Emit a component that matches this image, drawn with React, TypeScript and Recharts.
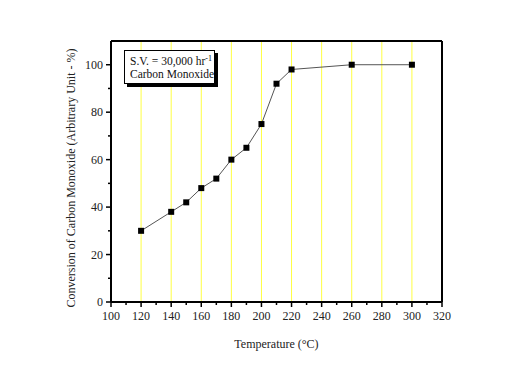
import React from 'react';
import { LineChart, Line, XAxis, YAxis, ReferenceLine } from 'recharts';

const temps = [120, 140, 150, 160, 170, 180, 190, 200, 210, 220, 260, 300];
const conversion = [30, 38, 42, 48, 52, 60, 65, 75, 92, 98, 100, 100];

const xTicks = [100, 110, 120, 130, 140, 150, 160, 170, 180, 190, 200, 210, 220, 230, 240, 250, 260, 270, 280, 290, 300, 310, 320];
const yTicks = [0, 10, 20, 30, 40, 50, 60, 70, 80, 90, 100, 110];
const gridX = [120, 140, 160, 180, 200, 220, 240, 260, 280, 300];

const data = temps.map((t, i) => ({ t, v: conversion[i] }));

const FONT = '"Liberation Serif", "Times New Roman", serif';

const XTick = (props: any) => {
    const { x, y, payload } = props;
    const major = payload.value % 20 === 0;
    return (
        <g>
            <line x1={x} x2={x} y1={y} y2={y + (major ? 5 : 3)} stroke="#000" strokeWidth={1.5} />
            {major && (
                <text x={x} y={y + 18} textAnchor="middle" fontSize={12} fontFamily={FONT} fill="#222">
                    {payload.value}
                </text>
            )}
        </g>
    );
};

const YTick = (props: any) => {
    const { x, y, payload } = props;
    const major = payload.value % 20 === 0;
    if (payload.value > 100) return <g />;
    return (
        <g>
            <line x1={x - (major ? 5 : 3)} x2={x} y1={y} y2={y} stroke="#000" strokeWidth={1.5} />
            {major && (
                <text x={x - 8} y={y + 4} textAnchor="end" fontSize={12} fontFamily={FONT} fill="#222">
                    {payload.value}
                </text>
            )}
        </g>
    );
};

const Square = (props: any) => {
    const { cx, cy } = props;
    return <rect x={cx - 3} y={cy - 3} width={6} height={6} fill="#000" />;
};

export default function App() {
    return (
        <div style={{ position: 'absolute', left: 0, top: 0, width: 515, height: 378, background: '#fff', fontFamily: FONT }}>
            <LineChart width={515} height={378} data={data} margin={{ top: 41, right: 73, left: 0, bottom: 0 }}>
                {gridX.map((g) => (
                    <ReferenceLine key={g} x={g} stroke="#ffff40" strokeWidth={1} />
                ))}
                <XAxis
                    dataKey="t" type="number" domain={[100, 320]} ticks={xTicks} interval={0}
                    height={76} tickSize={0} tickMargin={0} tick={<XTick />}
                    axisLine={{ stroke: '#000', strokeWidth: 2 }} tickLine={false}
                    label={{ value: 'Temperature (°C)', position: 'insideBottom', offset: 30, fontSize: 12, fontFamily: FONT, fill: '#222' }}
                />
                <YAxis
                    type="number" domain={[0, 110]} ticks={yTicks} interval={0}
                    width={111} tickSize={0} tickMargin={0} tick={<YTick />}
                    axisLine={{ stroke: '#000', strokeWidth: 2 }} tickLine={false}
                />
                <ReferenceLine y={110} stroke="#000" strokeWidth={2} />
                <ReferenceLine x={320} stroke="#000" strokeWidth={2} />
                <Line
                    dataKey="v" stroke="#555" strokeWidth={1} dot={<Square />}
                    isAnimationActive={false}
                />
            </LineChart>
            <div style={{
                position: 'absolute', left: 71, top: 178, transform: 'translate(-50%, -50%) rotate(-90deg)',
                whiteSpace: 'nowrap', fontSize: 12, color: '#222'
            }}>
                Conversion of Carbon Monoxide (Arbitrary Unit - %)
            </div>
            <div style={{
                position: 'absolute', left: 124, top: 50, width: 91, height: 34,
                border: '1px solid #000', boxShadow: '3px 3px 0 #000', background: '#fff',
                fontSize: 11.5, color: '#111', lineHeight: '13px', padding: '4px 0 0 5px', boxSizing: 'border-box',
                whiteSpace: 'nowrap'
            }}>
                <div>S.V. = 30,000 hr<sup style={{ fontSize: 8, verticalAlign: 'top', lineHeight: '8px' }}>-1</sup></div>
                <div>Carbon Monoxide</div>
            </div>
        </div>
    );
}
